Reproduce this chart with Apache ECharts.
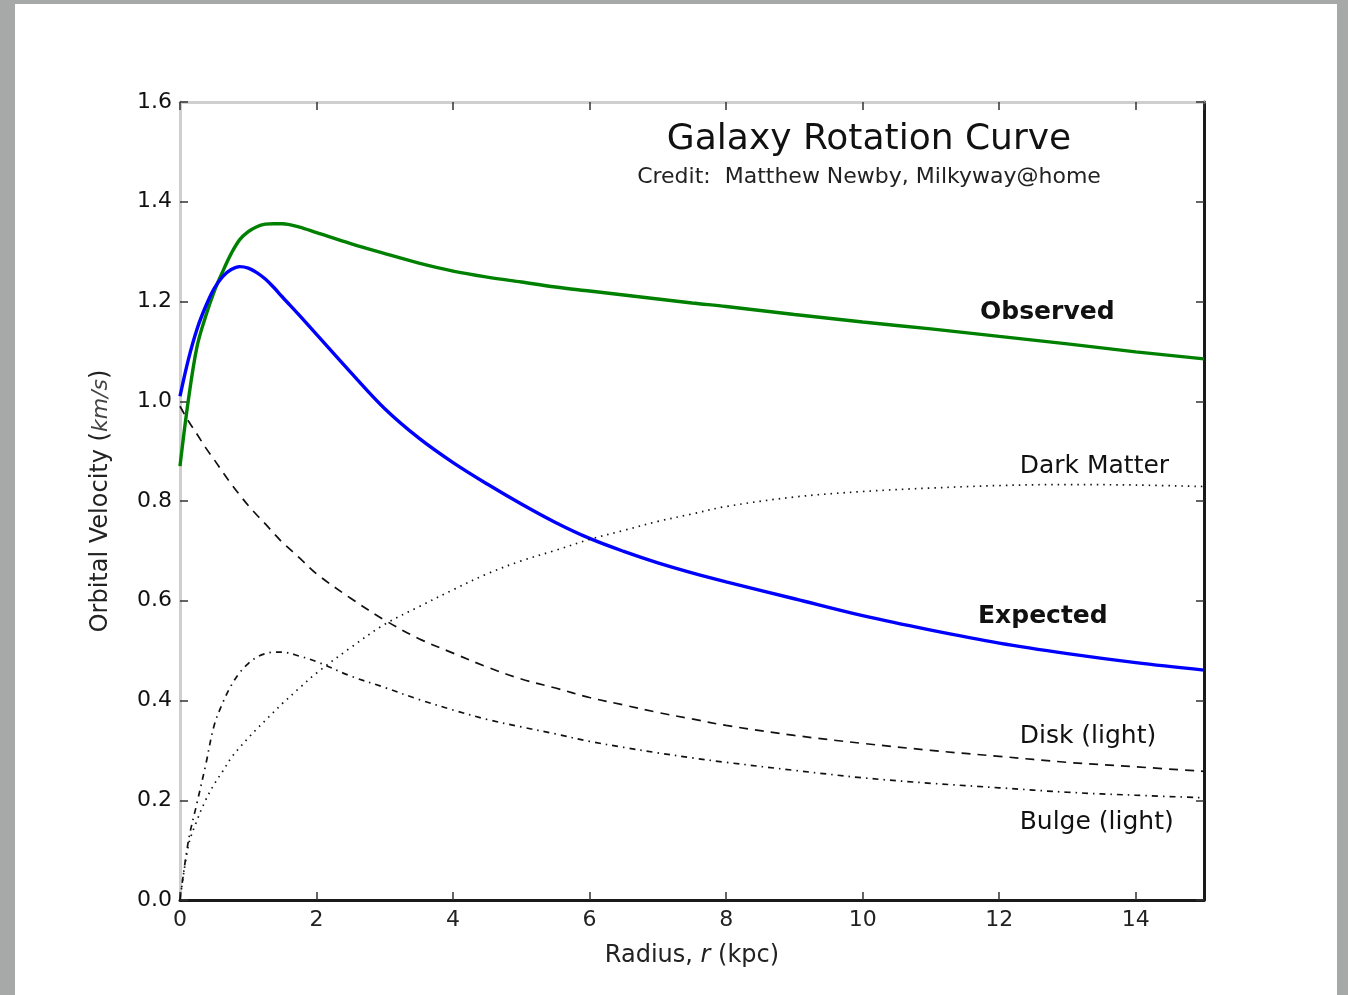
<!DOCTYPE html>
<html><head><meta charset="utf-8">
<script src="https://cdn.jsdelivr.net/npm/echarts@6/dist/echarts.min.js"></script>
<style>
html,body{margin:0;padding:0;background:#a7a9a8;width:1348px;height:995px;overflow:hidden}
#paper{position:absolute;left:15px;top:4px;width:1322px;height:991px;background:#fff}
#chart{position:absolute;left:0;top:0;width:1348px;height:995px}
</style></head><body>
<div id="paper"></div><div id="chart"></div>
<script>
// Radius (kpc)
const radius     = [0, 0.125, 0.25, 0.375, 0.5, 0.625, 0.75, 0.875, 1.0, 1.125, 1.25, 1.375, 1.5, 1.75, 2.0, 2.5, 3.0, 3.5, 4, 4.5, 5, 5.5, 6, 6.5, 7, 7.5, 8, 9, 10, 11, 12, 13, 14, 15];
// Orbital velocity curves
const observed   = [0.87, 1.005, 1.11, 1.17, 1.22, 1.26, 1.296, 1.324, 1.34, 1.35, 1.355, 1.356, 1.356, 1.349, 1.338, 1.316, 1.296, 1.277, 1.261, 1.249, 1.239, 1.229, 1.221, 1.213, 1.205, 1.197, 1.19, 1.174, 1.159, 1.145, 1.13, 1.115, 1.099, 1.085];
const expected   = [1.01, 1.085, 1.145, 1.19, 1.226, 1.25, 1.264, 1.27, 1.267, 1.258, 1.245, 1.228, 1.209, 1.172, 1.134, 1.058, 0.985, 0.926, 0.877, 0.834, 0.794, 0.757, 0.725, 0.699, 0.676, 0.656, 0.638, 0.604, 0.57, 0.541, 0.515, 0.494, 0.476, 0.461];
const darkMatter = [0, 0.11, 0.16, 0.2, 0.232, 0.258, 0.285, 0.306, 0.325, 0.343, 0.36, 0.377, 0.394, 0.425, 0.455, 0.506, 0.553, 0.588, 0.622, 0.654, 0.68, 0.701, 0.723, 0.741, 0.759, 0.774, 0.789, 0.808, 0.819, 0.826, 0.831, 0.833, 0.832, 0.829];
const disk       = [0.99, 0.96, 0.934, 0.907, 0.883, 0.858, 0.834, 0.812, 0.791, 0.772, 0.754, 0.735, 0.717, 0.686, 0.654, 0.605, 0.561, 0.524, 0.495, 0.467, 0.443, 0.425, 0.406, 0.391, 0.376, 0.363, 0.35, 0.33, 0.314, 0.3, 0.288, 0.276, 0.267, 0.258];
const bulge      = [0, 0.12, 0.195, 0.27, 0.35, 0.395, 0.43, 0.456, 0.474, 0.487, 0.494, 0.497, 0.497, 0.489, 0.478, 0.449, 0.426, 0.402, 0.381, 0.362, 0.347, 0.333, 0.318, 0.306, 0.295, 0.285, 0.276, 0.26, 0.245, 0.234, 0.225, 0.216, 0.21, 0.205];
// Curve annotations: [name, radius, velocity]
const annotations = [
  ['Observed', 11.72, 1.177],
  ['Expected', 11.69, 0.569],
  ['Dark Matter', 12.3, 0.87],
  ['Disk (light)', 12.3, 0.327],
  ['Bulge (light)', 12.3, 0.156]
];
const boldNames = ['Observed', 'Expected'];

const FONT = 'DejaVu Sans';
const pair = arr => radius.map((r, i) => [r, arr[i]]);

const chart = echarts.init(document.getElementById('chart'), null, {renderer: 'canvas'});
const tickStyle = {show: true, inside: true, length: 8, lineStyle: {color: '#333', width: 1.5}};
const lineSeries = (name, arr, color, width, type) => ({
  name, type: 'line', data: pair(arr), showSymbol: false, smooth: 0.35,
  lineStyle: {color, width, type}, z: 3, silent: true
});

chart.setOption({
  animation: false,
  backgroundColor: 'transparent',
  title: {
    text: 'Galaxy Rotation Curve',
    subtext: 'Credit:  Matthew Newby, Milkyway@home',
    left: 864, top: 117, textAlign: 'center', itemGap: 8,
    textStyle: {fontFamily: FONT, fontSize: 36, fontWeight: 'normal', color: '#111'},
    subtextStyle: {fontFamily: FONT, fontSize: 22, color: '#222'}
  },
  grid: {left: 180, right: 144, top: 102, bottom: 95, containLabel: false},
  xAxis: [{
    type: 'value', min: 0, max: 15, interval: 2, position: 'bottom',
    name: '{a|Radius, }{i|r}{a| (kpc)}', nameLocation: 'middle', nameGap: 44,
    nameTextStyle: {rich: {a: {fontFamily: FONT, fontSize: 24, color: '#222'}, i: {fontFamily: FONT, fontSize: 24, fontStyle: 'italic', color: '#222'}}},
    axisLine: {show: true, onZero: false, lineStyle: {color: '#1a1a1a', width: 3}},
    axisTick: tickStyle, splitLine: {show: false},
    axisLabel: {fontFamily: FONT, fontSize: 22, color: '#222', margin: 9, showMaxLabel: false,
      formatter: v => (v % 2 === 0 ? String(v) : '')}
  }, {
    type: 'value', min: 0, max: 15, interval: 2, position: 'top',
    axisLine: {show: true, onZero: false, lineStyle: {color: '#cfcfcf', width: 3}},
    axisTick: tickStyle, axisLabel: {show: false}, splitLine: {show: false}
  }],
  yAxis: [{
    type: 'value', min: 0, max: 1.6, interval: 0.2, position: 'left',
    name: '{a|Orbital Velocity (}{i|km/s}{a|)}', nameLocation: 'middle', nameGap: 67,
    nameTextStyle: {rich: {a: {fontFamily: FONT, fontSize: 24, color: '#222'}, i: {fontFamily: FONT, fontSize: 22, fontStyle: 'italic', color: '#444'}}},
    axisLine: {show: true, onZero: false, lineStyle: {color: '#cfcfcf', width: 3}},
    axisTick: tickStyle, splitLine: {show: false},
    axisLabel: {fontFamily: FONT, fontSize: 22, color: '#111', margin: 8, formatter: v => v.toFixed(1)}
  }, {
    type: 'value', min: 0, max: 1.6, interval: 0.2, position: 'right',
    axisLine: {show: true, onZero: false, lineStyle: {color: '#1a1a1a', width: 3}},
    axisTick: tickStyle, axisLabel: {show: false}, splitLine: {show: false}
  }],
  series: [
    lineSeries('Observed', observed, '#008000', 3.4, 'solid'),
    lineSeries('Expected', expected, '#0000ff', 3.4, 'solid'),
    lineSeries('Dark Matter', darkMatter, '#111', 1.7, [1.5, 5]),
    lineSeries('Disk (light)', disk, '#111', 1.7, [9, 7]),
    lineSeries('Bulge (light)', bulge, '#111', 1.7, [6, 5, 1.5, 5]),
    {
      name: 'labels', type: 'scatter', symbolSize: 0, silent: true, z: 5,
      itemStyle: {opacity: 1},
      data: annotations.map(([n, r, v]) => ({
        value: [r, v], name: n,
        label: {fontWeight: boldNames.includes(n) ? 'bold' : 'normal', color: '#111', fontSize: 25}
      })),
      label: {show: true, position: 'right', distance: 0, formatter: p => p.name,
        fontFamily: FONT, fontSize: 25, color: '#111'}
    }
  ]
});
</script></body></html>
